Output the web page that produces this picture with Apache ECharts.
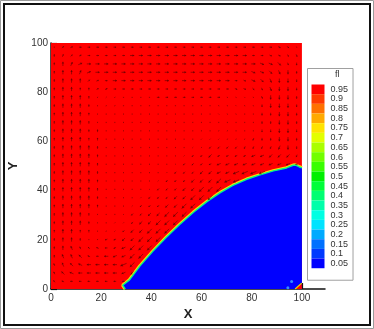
<!DOCTYPE html>
<html><head><meta charset="utf-8">
<script src="https://cdn.jsdelivr.net/npm/echarts@6/dist/echarts.min.js"></script>
<style>html,body{margin:0;padding:0;background:#fff}#c{width:374px;height:329px}</style>
</head><body><div id="c"></div>
<script>
// ---- data ----
const xTicks = [0, 20, 40, 60, 80, 100];
const yTicks = [0, 20, 40, 60, 80, 100];
const domainTop = [[0, 100], [100, 100]];
// liquid/solid interface (fl = 0.5 contour)
const interfaceCurve = [[29.6,0],[28.6,1.5],[31.3,3.7],[35.5,9.4],[40.5,15.2],[46,21],[51.3,26.2],[56.8,31.2],[62.3,35.6],[67.5,39.2],[72.5,42.1],[78,44.6],[83.3,46.4],[88.6,48],[93.9,49.2],[96.5,50.3],[97.5,50.4],[99,49.6],[100,49.2]];
const cornerPatch = [[97.3,0],[99.9,2.4],[100,2.4]];
const specks = [[95.9,3.0],[94.4,0.5]];
const levelLabels = ['0.05','0.1','0.15','0.2','0.25','0.3','0.35','0.4','0.45','0.5','0.55','0.6','0.65','0.7','0.75','0.8','0.85','0.9','0.95'];
const levelValues = [0.05,0.1,0.15,0.2,0.25,0.3,0.35,0.4,0.45,0.5,0.55,0.6,0.65,0.7,0.75,0.8,0.85,0.9,0.95];
const levelColors = ['#0000ff','#0039ff','#0071ff','#00aaff','#00e3ff','#00ffe3','#00ffaa','#00ff71','#00ff39','#00f000','#39ff00','#71ff00','#aaff00','#e3ff00','#ffe300','#ffaa00','#ff7100','#ff3900','#ff0000'];
// velocity vectors: grid positions and tokens (hex direction 0=up clockwise in 22.5deg steps, magnitude 0-3)
const arrowXs = [1.3,4.75,8.2,11.65,15.1,18.55,22,25.45,28.9,32.35,35.8,39.25,42.7,46.15,49.6,53.05,56.5,59.95,63.4,66.85,70.3,73.75,77.2,80.65,84.1,87.55,91,94.45,97.9];
const arrowYs = [98.3,94.9,91.5,88.1,84.7,81.3,77.9,74.5,71.1,67.7,64.3,60.9,57.5,54.1,50.7,47.3,43.9,40.5,37.1,33.7,30.3,26.9,23.5,20.1,16.7,13.3,9.9,6.5,3.1];
const arrowRows = [
'00 21 31 41 41 41 41 41 41 41 41 41 41 41 41 41 41 41 41 41 41 41 41 41 41 41 51 61 70',
'01 11 21 31 41 41 41 41 41 42 42 42 42 42 42 42 42 42 42 42 42 42 42 41 41 51 51 61 71',
'01 02 12 32 42 42 42 42 42 42 42 42 42 42 42 42 42 42 42 42 42 42 42 42 52 52 62 71 81',
'01 02 02 12 32 42 42 42 42 42 42 42 42 42 42 42 42 42 42 42 42 42 42 52 52 62 72 82 81',
'01 02 02 02 21 31 41 42 42 42 42 42 42 42 42 42 42 42 42 42 42 41 51 52 62 72 82 82 81',
'01 02 02 01 01 21 31 41 41 41 41 41 41 41 41 41 41 41 41 41 41 51 51 61 71 72 82 82 81',
'01 02 02 02 01 10 20 30 40 40 40 40 41 41 41 41 41 41 41 41 50 50 60 70 71 82 82 82 81',
'01 02 02 02 01 00 10 30 40 40 40 40 40 40 40 40 40 40 40 50 50 60 70 70 81 82 82 82 81',
'01 02 02 02 01 00 00 00 00 00 00 00 00 00 00 00 00 00 00 60 70 70 80 80 81 81 82 82 81',
'01 02 02 02 01 00 00 00 00 00 00 00 00 00 00 00 00 00 00 80 80 80 80 80 81 81 82 82 81',
'01 02 02 02 01 01 00 00 00 00 00 00 00 00 00 00 00 00 00 90 90 80 80 80 81 81 82 82 81',
'01 02 02 02 01 01 00 00 00 00 00 00 00 00 00 00 00 a0 a0 a0 90 90 90 91 81 81 82 82 81',
'01 02 02 02 02 01 00 00 00 00 00 00 00 00 00 00 a0 a0 a1 a1 a1 a1 91 91 91 91 92 82 81',
'01 02 02 02 02 01 00 00 00 00 00 00 00 00 00 a0 a1 a1 a2 b1 b1 b1 b1 b2 b2 a2 a2 a2 91',
'01 02 02 02 02 01 00 00 00 00 00 00 00 00 a0 a1 a1 a1 b1 b2 b2 b2 b2 b2 b2 b2 b2 b2 c1',
'01 02 02 02 02 01 00 00 00 00 00 00 00 a0 a1 a1 a1 a2 a2 b2 b2 b3 b3 b3 b3',
'01 02 02 02 02 01 00 00 00 00 00 00 a0 a1 a1 a1 a2 a2 a2 a3 b3 b3',
'01 02 02 02 02 01 00 00 00 00 00 a0 a1 a1 a1 a2 a2 a3 a3 a3',
'01 02 02 02 02 01 00 00 00 00 a0 a1 a1 a1 a2 a2 a3 a3 a3',
'01 02 02 02 02 01 00 00 00 a0 a1 a1 a1 a2 a2 a3 a3',
'01 02 02 02 01 00 00 00 a0 a1 a1 a2 a2 a3 a3 a3',
'01 02 02 02 01 00 00 a0 a0 a1 a2 a2 a3 a3 a3',
'01 02 02 01 01 00 b0 a0 a1 a2 a2 a3 a3 a3',
'01 02 02 01 00 b0 b1 b1 a2 a2 a3 a3 a3',
'01 02 f2 f1 e1 d1 c1 b1 b2 a3 a3 a3',
'01 f2 f2 e2 d1 c1 c2 b2 b2 a3 a3',
'f1 f2 e2 d2 c2 c2 c2 c2 b3 a3',
'f1 e2 d2 c2 c2 c2 c2 c2 b2 a2',
'e1 d1 c1 c1 c1 c1 c1 c1 c1'
];

// ---- build ----
const arrowData = [];
arrowRows.forEach((row, r) => {
  row.trim().split(/\s+/).forEach((tok, c) => {
    if (tok === '-') return;
    arrowData.push([arrowXs[c], arrowYs[r], parseInt(tok[0], 16), parseInt(tok[1], 10)]);
  });
});
const ARROW = 'rgba(80,0,0,0.62)';
function renderArrow(params, api) {
  const p = api.coord([api.value(0), api.value(1)]);
  const a = api.value(2) * Math.PI / 8, m = api.value(3);
  const len = [1.2, 2.6, 4.2, 6.6][m];
  const ux = Math.sin(a), uy = -Math.cos(a);
  const x1 = p[0] - ux * len / 2, y1 = p[1] - uy * len / 2;
  const x2 = p[0] + ux * len / 2, y2 = p[1] + uy * len / 2;
  const h = [0, 1.2, 1.8, 2.4][m], w = [0, 1.0, 1.3, 1.6][m];
  const ch = [{type: 'line', shape: {x1, y1, x2, y2}, style: {stroke: ARROW, lineWidth: 0.9}}];
  if (h > 0) {
    const bx = x2 - ux * h, by = y2 - uy * h;
    ch.push({type: 'polygon', shape: {points: [[x2, y2], [bx - uy * w, by + ux * w], [bx + uy * w, by - ux * w]]}, style: {fill: ARROW}});
  }
  return {type: 'group', children: ch};
}
const pieces = levelValues.map((v, i) => {
  const pc = {label: levelLabels[i], color: levelColors[i]};
  if (i > 0) pc.gt = v - 0.025;
  if (i < levelValues.length - 1) pc.lte = v + 0.025;
  return pc;
});
const axisFont = {fontFamily: 'Liberation Sans, Arial, sans-serif', fontSize: 10, color: '#333'};
const chart = echarts.init(document.getElementById('c'), null, {renderer: 'canvas'});
chart.setOption({
  animation: false,
  backgroundColor: '#fff',
  title: {text: 'fl', left: 335, top: 70, padding: 0, textStyle: {fontSize: 9, fontWeight: 'normal', color: '#333', fontFamily: 'Liberation Sans, Arial, sans-serif'}},
  grid: {left: 51, right: 49, top: 43, bottom: 40, outerBoundsMode: 'none'},
  xAxis: {
    type: 'value', min: 0, max: 109.2,
    name: 'X', nameLocation: 'middle', nameGap: 13,
    nameTextStyle: {fontFamily: 'Liberation Sans, Arial, sans-serif', fontSize: 13, fontWeight: 'bold', color: '#222'},
    axisLine: {show: true, lineStyle: {color: '#111', width: 1.5}},
    axisTick: {show: true, inside: true, length: 6, customValues: xTicks, lineStyle: {color: '#111', width: 1.2}},
    axisLabel: Object.assign({margin: 4, customValues: xTicks}, axisFont),
    splitLine: {show: false}
  },
  yAxis: {
    type: 'value', min: 0, max: 100,
    name: 'Y', nameLocation: 'middle', nameGap: 21, nameRotate: 90,
    nameTextStyle: {fontFamily: 'Liberation Sans, Arial, sans-serif', fontSize: 13, fontWeight: 'bold', color: '#222'},
    axisLine: {show: true, lineStyle: {color: '#111', width: 1.5}},
    axisTick: {show: true, inside: true, length: 6, customValues: yTicks, lineStyle: {color: '#111', width: 1.2}},
    axisLabel: Object.assign({margin: 3, customValues: yTicks}, axisFont),
    splitLine: {show: false}
  },
  visualMap: {
    type: 'piecewise', orient: 'vertical', left: 307, top: 68,
    seriesIndex: 6, pieces: pieces, align: 'left',
    itemWidth: 13, itemHeight: 9.67, itemGap: 0, itemSymbol: 'rect', textGap: 6,
    padding: [16, 5, 12, 4], backgroundColor: '#fff', borderColor: '#a0a0a0', borderWidth: 1,
    textStyle: {fontSize: 9, color: '#333', fontFamily: 'Liberation Sans, Arial, sans-serif'},
    selectedMode: false, hoverLink: false
  },
  graphic: [
    {type: 'rect', silent: true, shape: {x: 0.5, y: 0.5, width: 373, height: 328}, style: {fill: 'none', stroke: '#9a9a9a', lineWidth: 1}},
    {type: 'rect', silent: true, shape: {x: 4, y: 4, width: 366, height: 321}, style: {fill: 'none', stroke: '#111', lineWidth: 2}}
  ],
  series: [
    {type: 'line', data: domainTop, symbol: 'none', lineStyle: {width: 0}, areaStyle: {color: '#ff0000', opacity: 1}, z: 1},
    {type: 'line', data: interfaceCurve, symbol: 'none', lineStyle: {color: '#ffe000', width: 3.5}, z: 2},
    {type: 'line', data: interfaceCurve, symbol: 'none', lineStyle: {color: '#00f090', width: 1.4}, areaStyle: {color: '#0000ff', opacity: 1}, z: 3},
    {type: 'line', data: cornerPatch, symbol: 'none', lineStyle: {color: '#e0e000', width: 1.2}, areaStyle: {color: '#ff0000', opacity: 1}, z: 4},
    {type: 'scatter', data: specks, symbolSize: 3, itemStyle: {color: '#40b0ff'}, z: 4},
    {type: 'custom', data: arrowData, renderItem: renderArrow, encode: {x: 0, y: 1}, clip: true, z: 5},
    {type: 'scatter', data: [], z: 0}
  ]
});
</script></body></html>
